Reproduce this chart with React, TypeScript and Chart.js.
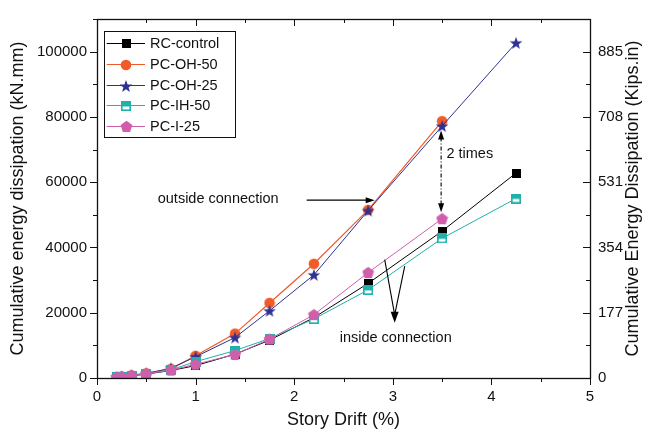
import React, { useEffect, useRef } from "react";
import { Chart, registerables } from "chart.js";

Chart.register(...registerables);

// ---------- data ----------
const drift = [0.2, 0.25, 0.35, 0.5, 0.75, 1.0, 1.4, 1.75, 2.2, 2.75, 3.5, 4.25];
const rcControl = [200, 350, 650, 1200, 2300, 3800, 7300, 11600, 18500, 29000, 45000, 62800];
const pcOH50 = [300, 450, 800, 1400, 2800, 6800, 13600, 23000, 35000, 51500, 78700, null];
const pcOH25 = [300, 450, 800, 1400, 3000, 6500, 12400, 20600, 31600, 51300, 77200, 102700];
const pcIH50 = [200, 350, 650, 1300, 2500, 5000, 8400, 12100, 18100, 27000, 42800, 55000];
const pcI25 = [250, 400, 800, 1300, 2400, 4200, 7200, 11900, 19400, 32300, 48800, null];
const seriesNames = ["RC-control", "PC-OH-50", "PC-OH-25", "PC-IH-50", "PC-I-25"];
const leftTicks = [0, 20000, 40000, 60000, 80000, 100000];
const rightTickLabels = ["0", "177", "354", "531", "708", "885"];
const xTicks = [0, 1, 2, 3, 4, 5];

const FONT = 'Arial, "Liberation Sans", sans-serif';
const colors = ["#000000", "#f15a29", "#2e3192", "#1fb1ab", "#cf5fab"];

function makeCanvas(size: number, draw: (c: CanvasRenderingContext2D, s: number) => void) {
  const cv = document.createElement("canvas");
  cv.width = size;
  cv.height = size;
  const c = cv.getContext("2d")!;
  draw(c, size);
  return cv;
}

function polygon(c: CanvasRenderingContext2D, cx: number, cy: number, pts: number, rOut: number, rIn: number | null) {
  c.beginPath();
  const n = rIn == null ? pts : pts * 2;
  for (let i = 0; i < n; i++) {
    const r = rIn == null ? rOut : i % 2 === 0 ? rOut : rIn;
    const a = -Math.PI / 2 + (i * 2 * Math.PI) / n;
    const x = cx + r * Math.cos(a);
    const y = cy + r * Math.sin(a);
    if (i === 0) c.moveTo(x, y);
    else c.lineTo(x, y);
  }
  c.closePath();
}

function makeMarkers() {
  const square = makeCanvas(9, (c, s) => {
    c.fillStyle = colors[0];
    c.fillRect(0, 0, s, s);
  });
  const circle = makeCanvas(12, (c, s) => {
    c.fillStyle = colors[1];
    c.beginPath();
    c.arc(s / 2, s / 2, 5.3, 0, Math.PI * 2);
    c.fill();
  });
  const star = makeCanvas(14, (c, s) => {
    c.fillStyle = colors[2];
    polygon(c, s / 2, s / 2 + 0.6, 5, 6.6, 2.7);
    c.fill();
  });
  const halfSquare = makeCanvas(10, (c, s) => {
    c.fillStyle = "#ffffff";
    c.fillRect(0, 0, s, s);
    c.fillStyle = colors[3];
    c.fillRect(0, 0, s, s * 0.55);
    c.strokeStyle = colors[3];
    c.lineWidth = 1.6;
    c.strokeRect(0.8, 0.8, s - 1.6, s - 1.6);
  });
  const pentagon = makeCanvas(13, (c, s) => {
    c.fillStyle = colors[4];
    polygon(c, s / 2, s / 2 + 0.5, 5, 6.2, null);
    c.fill();
  });
  return [square, circle, star, halfSquare, pentagon];
}

function arrowHead(ctx: CanvasRenderingContext2D, x1: number, y1: number, x2: number, y2: number, len: number, half: number) {
  const a = Math.atan2(y2 - y1, x2 - x1);
  ctx.beginPath();
  ctx.moveTo(x2, y2);
  ctx.lineTo(x2 - len * Math.cos(a) + half * Math.sin(a), y2 - len * Math.sin(a) - half * Math.cos(a));
  ctx.lineTo(x2 - len * Math.cos(a) - half * Math.sin(a), y2 - len * Math.sin(a) + half * Math.cos(a));
  ctx.closePath();
  ctx.fill();
}

export default function App() {
  const ref = useRef<HTMLCanvasElement | null>(null);

  useEffect(() => {
    const canvas = ref.current!;
    const markers = makeMarkers();
    const seriesValues = [rcControl, pcOH50, pcOH25, pcIH50, pcI25];

    const datasets = seriesValues.map((vals, i) => ({
      label: seriesNames[i],
      data: drift
        .map((d, j) => ({ x: d, y: vals[j] }))
        .filter((p) => p.y !== null && p.y !== undefined),
      borderColor: colors[i],
      backgroundColor: colors[i],
      borderWidth: i === 1 ? 1.2 : 1,
      pointStyle: markers[i],
      pointRadius: 5,
      tension: 0,
      order: 4 - i,
      yAxisID: "y",
    }));

    const framePlugin = {
      id: "frameAndAnnotations",
      afterDraw(chart: any) {
        const { ctx, chartArea: a, scales } = chart;
        const xs = scales.x;
        const ys = scales.y;
        ctx.save();
        // frame
        ctx.strokeStyle = "#111";
        ctx.lineWidth = 1.3;
        ctx.strokeRect(Math.round(a.left) + 0.5, Math.round(a.top) + 0.5, Math.round(a.right - a.left), Math.round(a.bottom - a.top));
        ctx.lineWidth = 1;
        ctx.beginPath();
        // x ticks (bottom outward, top inward)
        for (let v = 0; v <= 5.0001; v += 0.5) {
          const px = Math.round(xs.getPixelForValue(v)) + 0.5;
          const major = Math.abs(v - Math.round(v)) < 1e-6;
          const len = major ? 7 : 4;
          ctx.moveTo(px, a.bottom);
          ctx.lineTo(px, a.bottom + len);
          ctx.moveTo(px, a.top);
          ctx.lineTo(px, a.top + len);
        }
        // y ticks (left outward, right inward)
        for (let v = 0; v <= 110000; v += 10000) {
          const py = Math.round(ys.getPixelForValue(v)) + 0.5;
          const major = v % 20000 === 0;
          const len = major ? 7 : 4;
          ctx.moveTo(a.left, py);
          ctx.lineTo(a.left - len, py);
          ctx.moveTo(a.right, py);
          ctx.lineTo(a.right - len, py);
        }
        ctx.stroke();

        // axis titles
        ctx.fillStyle = "#111";
        ctx.font = `18px ${FONT}`;
        ctx.textAlign = "center";
        ctx.textBaseline = "middle";
        ctx.fillText("Story Drift (%)", (a.left + a.right) / 2, 420);
        const cy = (a.top + a.bottom) / 2;
        ctx.save();
        ctx.translate(18, cy);
        ctx.rotate(-Math.PI / 2);
        ctx.fillText("Cumulative energy dissipation (kN.mm)", 0, 0);
        ctx.restore();
        ctx.save();
        ctx.translate(633, cy);
        ctx.rotate(-Math.PI / 2);
        ctx.fillText("Cumulative Energy Dissipation (Kips.in)", 0, 0);
        ctx.restore();

        // annotations
        ctx.font = `14.5px ${FONT}`;
        ctx.textAlign = "left";
        ctx.fillStyle = "#111";
        ctx.strokeStyle = "#000";
        ctx.lineWidth = 1.1;
        // outside connection
        ctx.fillText("outside connection", xs.getPixelForValue(0.616), ys.getPixelForValue(55000));
        const ox1 = xs.getPixelForValue(2.127), ox2 = xs.getPixelForValue(2.816), oy = ys.getPixelForValue(54500);
        ctx.beginPath();
        ctx.moveTo(ox1, oy);
        ctx.lineTo(ox2 - 6, oy);
        ctx.stroke();
        ctx.fillStyle = "#000";
        arrowHead(ctx, ox1, oy, ox2, oy, 9, 3);
        // 2 times
        ctx.fillStyle = "#111";
        ctx.fillText("2 times", xs.getPixelForValue(3.544), ys.getPixelForValue(68500));
        const tx = xs.getPixelForValue(3.49);
        const ty1 = ys.getPixelForValue(75800), ty2 = ys.getPixelForValue(50800);
        ctx.save();
        ctx.setLineDash([4, 2, 1, 2]);
        ctx.beginPath();
        ctx.moveTo(tx, ty1 + 7);
        ctx.lineTo(tx, ty2 - 7);
        ctx.stroke();
        ctx.restore();
        ctx.fillStyle = "#000";
        arrowHead(ctx, tx, ty2, tx, ty1, 9, 3);
        arrowHead(ctx, tx, ty1, tx, ty2, 9, 3);
        // inside connection
        const ix = xs.getPixelForValue(3.019), iy = ys.getPixelForValue(16900);
        const s1x = xs.getPixelForValue(2.918), s1y = ys.getPixelForValue(36300);
        const s2x = xs.getPixelForValue(3.121), s2y = ys.getPixelForValue(34300);
        ctx.beginPath();
        ctx.moveTo(s1x, s1y);
        ctx.lineTo(ix, iy - 8);
        ctx.moveTo(s2x, s2y);
        ctx.lineTo(ix, iy - 8);
        ctx.stroke();
        arrowHead(ctx, ix, iy - 20, ix, iy, 11, 4);
        ctx.fillStyle = "#111";
        ctx.fillText("inside connection", xs.getPixelForValue(2.461), ys.getPixelForValue(12400));

        // legend
        const lx = a.left + 7, lt = a.top + 11.7;
        ctx.strokeStyle = "#111";
        ctx.lineWidth = 1;
        ctx.strokeRect(Math.round(lx) + 0.5, Math.round(lt) + 0.5, 131, 106);
        ctx.font = `14.5px ${FONT}`;
        ctx.textBaseline = "middle";
        for (let i = 0; i < seriesNames.length; i++) {
          const ry = Math.round(lt + 12.3 + i * 20.8) + 0.5;
          ctx.strokeStyle = colors[i];
          ctx.lineWidth = 1;
          ctx.beginPath();
          ctx.moveTo(lx + 2.7, ry);
          ctx.lineTo(lx + 41, ry);
          ctx.stroke();
          const m = markers[i];
          ctx.drawImage(m, Math.round(lx + 22 - m.width / 2), Math.round(ry - m.height / 2));
          ctx.fillStyle = "#111";
          ctx.fillText(seriesNames[i], lx + 46, ry + 0.5);
        }
        ctx.restore();
      },
    };

    const chart = new Chart(canvas, {
      type: "line",
      data: { datasets: datasets as any },
      options: {
        animation: false,
        responsive: false,
        maintainAspectRatio: false,
        layout: { padding: { top: 10, left: 0, right: 0, bottom: 0 } },
        plugins: { legend: { display: false }, tooltip: { enabled: false } },
        scales: {
          x: {
            type: "linear",
            min: 0,
            max: 5,
            grid: { display: false, drawTicks: false, tickLength: 0 },
            border: { display: false },
            afterBuildTicks: (s: any) => {
              s.ticks = xTicks.map((v) => ({ value: v }));
            },
            afterFit: (s: any) => {
              s.height = 53;
            },
            ticks: { font: { family: FONT, size: 15 }, color: "#111", padding: 10, maxRotation: 0 },
          },
          y: {
            type: "linear",
            position: "left",
            min: 0,
            max: 110000,
            grid: { display: false, drawTicks: false, tickLength: 0 },
            border: { display: false },
            afterBuildTicks: (s: any) => {
              s.ticks = leftTicks.map((v) => ({ value: v }));
            },
            afterFit: (s: any) => {
              s.width = 97;
            },
            ticks: { font: { family: FONT, size: 15 }, color: "#111", padding: 10, callback: (v: any) => String(v) },
          },
          y2: {
            type: "linear",
            position: "right",
            min: 0,
            max: 110000,
            grid: { display: false, drawTicks: false, tickLength: 0 },
            border: { display: false },
            afterBuildTicks: (s: any) => {
              s.ticks = leftTicks.map((v) => ({ value: v }));
            },
            afterFit: (s: any) => {
              s.width = 57;
            },
            ticks: {
              font: { family: FONT, size: 15 },
              color: "#111",
              padding: 8,
              callback: (v: any) => rightTickLabels[leftTicks.indexOf(Number(v))] ?? "",
            },
          },
        },
      },
      plugins: [framePlugin],
    });
    return () => chart.destroy();
  }, []);

  return (
    <div style={{ position: "fixed", left: 0, top: 0, width: 647, height: 431, background: "#fff" }}>
      <canvas ref={ref} width={647} height={431} style={{ display: "block" }} />
    </div>
  );
}
